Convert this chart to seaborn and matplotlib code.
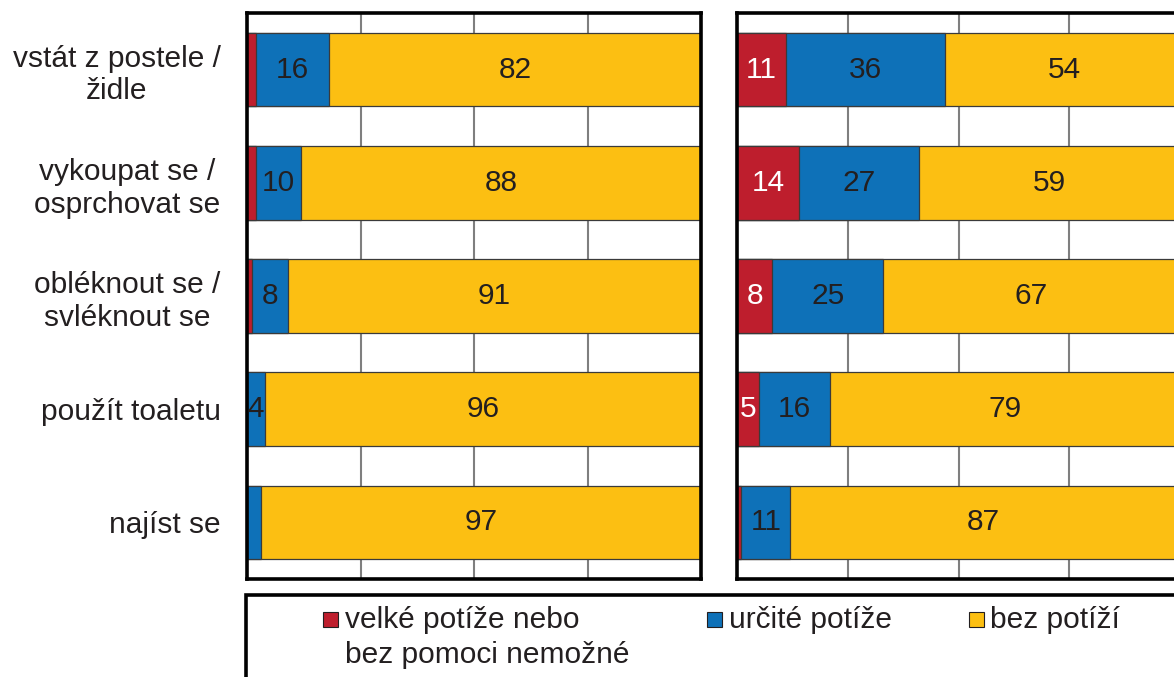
import matplotlib
matplotlib.use("Agg")
import matplotlib.pyplot as plt
from matplotlib.patches import Rectangle
import seaborn as sns
import pandas as pd

# categories (top to bottom)
categories = ["vstát z postele /\nžidle", "vykoupat se /\nosprchovat se",
              "obléknout se /\nsvléknout se", "použít toaletu", "najíst se"]

# left panel (%)
left_red = [2, 2, 1, 0, 0]
left_blue = [16, 10, 8, 4, 3]
left_yellow = [82, 88, 91, 96, 97]

# right panel (%)
right_red = [11, 14, 8, 5, 1]
right_blue = [36, 27, 25, 16, 11]
right_yellow = [54, 59, 67, 79, 87]

legend_labels = ["velké potíže nebo\nbez pomoci nemožné", "určité potíže", "bez potíží"]

RED, BLUE, YELLOW = "#be1e2d", "#0e71b8", "#fcbf12"
TXT = "#231f20"
FS = 21.5

sns.set_style("white")
plt.rcParams["font.family"] = ["Liberation Sans", "DejaVu Sans"]

W, H = 1174, 677
fig = plt.figure(figsize=(W / 100, H / 100), dpi=100)

ax_l = fig.add_axes([247 / W, (H - 579) / H, 454 / W, 566 / H])
ax_r = fig.add_axes([737 / W, (H - 579) / H, 443 / W, 566 / H])


def draw_panel(ax, red, blue, yellow, show_labels):
    df = pd.DataFrame({"cat": categories, "red": red, "blue": blue, "yellow": yellow})
    df["rb"] = df["red"] + df["blue"]
    df["tot"] = df["rb"] + df["yellow"]
    # stacked bars drawn as overlapping cumulative bars
    for col, c in [("tot", YELLOW), ("rb", BLUE), ("red", RED)]:
        sns.barplot(data=df, x=col, y="cat", orient="h", color=c, saturation=1,
                    width=0.65, edgecolor="#3a3a3a", linewidth=0.9,
                    errorbar=None, ax=ax)
    # value labels
    for i, row in df.iterrows():
        segs = [(0, row["red"], "white"), (row["red"], row["blue"], TXT),
                (row["rb"], row["yellow"], TXT)]
        for start, val, tc in segs:
            if val >= 4:
                ax.text(start + val / 2, i, str(val), ha="center", va="center",
                        fontsize=FS, color=tc)
    ax.set_xlim(0, 100)
    ax.set_xticks([25, 50, 75])
    ax.set_xticklabels([])
    ax.grid(axis="x", color="#7f7f7f", linewidth=1.5)
    ax.grid(axis="y", visible=False)
    ax.set_axisbelow(True)
    ax.set_xlabel("")
    ax.set_ylabel("")
    ax.tick_params(axis="both", length=0)
    for s in ax.spines.values():
        s.set_visible(True)
        s.set_color("black")
        s.set_linewidth(2.6)
    if show_labels:
        ax.tick_params(axis="y", pad=19, labelsize=FS, labelcolor=TXT)
        for t in ax.get_yticklabels():
            t.set_multialignment("center")
            t.set_linespacing(1.22)
    else:
        ax.set_yticklabels([])


draw_panel(ax_l, left_red, left_blue, left_yellow, True)
draw_panel(ax_r, right_red, right_blue, right_yellow, False)

# legend box (runs off the right and bottom edges)
fig.add_artist(Rectangle((246 / W, -0.1), 1.0, (H - 595) / H + 0.1,
                         transform=fig.transFigure, fill=False,
                         edgecolor="black", linewidth=2.6))

legend_pos = [(323, 345), (707, 729), (969, 990)]
for (sx, tx), lab, c in zip(legend_pos, legend_labels, [RED, BLUE, YELLOW]):
    fig.add_artist(Rectangle((sx / W, (H - 627) / H), 15 / W, 15 / H,
                             transform=fig.transFigure, facecolor=c,
                             edgecolor=TXT, linewidth=0.8))
    ty = (H - 637.5) / H if "\n" in lab else (H - 620) / H
    fig.text(tx / W, ty, lab, ha="left", va="center",
             fontsize=FS, color=TXT, linespacing=1.28)

fig.savefig("out.png", dpi=100)
